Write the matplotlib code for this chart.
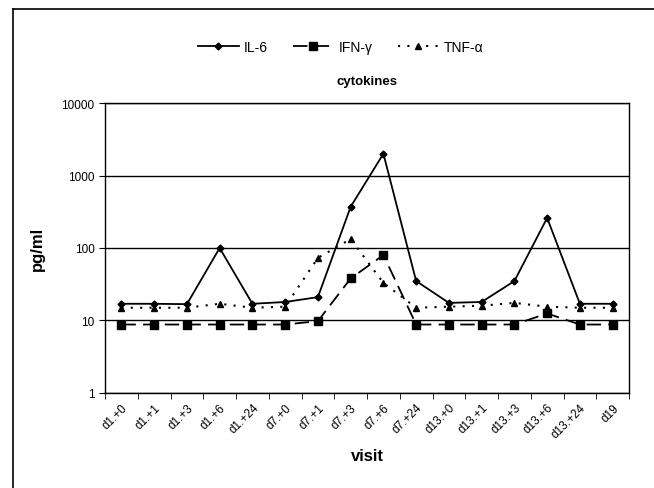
import matplotlib
matplotlib.use("Agg")
import matplotlib.pyplot as plt
from matplotlib.lines import Line2D
from matplotlib.ticker import FixedLocator, NullFormatter

plt.rcParams['font.family'] = ['Liberation Sans', 'DejaVu Sans']

visits = ['d1.+0', 'd1.+1', 'd1.+3', 'd1.+6', 'd1.+24', 'd7.+0', 'd7.+1', 'd7.+3',
          'd7.+6', 'd7.+24', 'd13.+0', 'd13.+1', 'd13.+3', 'd13.+6', 'd13.+24', 'd19']
il6 = [17, 17, 16.8, 100, 17, 18, 21, 370, 2000, 35, 17.5, 18, 35, 260, 17, 17]
ifng = [8.8, 8.8, 8.8, 8.8, 8.8, 8.8, 9.8, 38, 80, 8.8, 8.8, 8.8, 8.8, 12.5, 8.8, 8.8]
tnfa = [15, 15, 15, 17, 15, 15.5, 73, 133, 33, 15, 15.5, 16, 17.5, 15.5, 15, 15]

fig = plt.figure(figsize=(6.54, 4.89), dpi=100)
ax = fig.add_axes([0.1606, 0.1943, 0.8012, 0.593])

x = list(range(len(visits)))
ax.plot(x, il6, color='black', lw=1.3, marker='D', ms=3.5, label='IL-6')
ax.plot(x, ifng, color='black', lw=1.3, ls=(0, (8, 4)), marker='s', ms=6, label='IFN-γ')
ax.plot(x, tnfa, color='black', lw=1.5, ls=(0, (1, 3.5)), marker='^', ms=5, label='TNF-α')

ax.set_yscale('log')
ax.set_ylim(1, 10000)
ax.set_yticks([1, 10, 100, 1000, 10000])
ax.set_yticklabels(['1', '10', '100', '1000', '10000'])
ax.yaxis.set_minor_locator(FixedLocator([]))
ax.yaxis.grid(True, which='major', color='black', lw=1.0)
ax.tick_params(axis='y', length=4, labelsize=8.5)

ax.set_xlim(-0.5, len(visits) - 0.5)
ax.set_xticks(x)
ax.set_xticklabels(visits, rotation=45, ha='right', rotation_mode='anchor', fontsize=8.5)
ax.tick_params(axis='x', which='major', length=0, pad=6)
ax.xaxis.set_minor_locator(FixedLocator([i - 0.5 for i in range(len(visits) + 1)]))
ax.xaxis.set_minor_formatter(NullFormatter())
ax.tick_params(axis='x', which='minor', length=4)

for s in ax.spines.values():
    s.set_linewidth(1.0)

ax.set_xlabel('visit', fontsize=12, fontweight='bold', labelpad=6)
ax.set_ylabel('pg/ml', fontsize=12, fontweight='bold', labelpad=12)
ax.set_title('cytokines', fontsize=9.5, fontweight='bold', pad=14)

ax.legend(loc='lower center', bbox_to_anchor=(0.45, 1.125), ncol=3, frameon=False,
          fontsize=10, handlelength=2.9, columnspacing=1.8, handletextpad=0.4)

# outer chart frame (top and left edge visible)
fig.add_artist(Line2D([13 / 654, 13 / 654], [0, 1 - 10 / 489], color='black', lw=1.2))
fig.add_artist(Line2D([13 / 654, 1], [1 - 10 / 489, 1 - 10 / 489], color='black', lw=1.2))

fig.savefig('out.png', dpi=100)
